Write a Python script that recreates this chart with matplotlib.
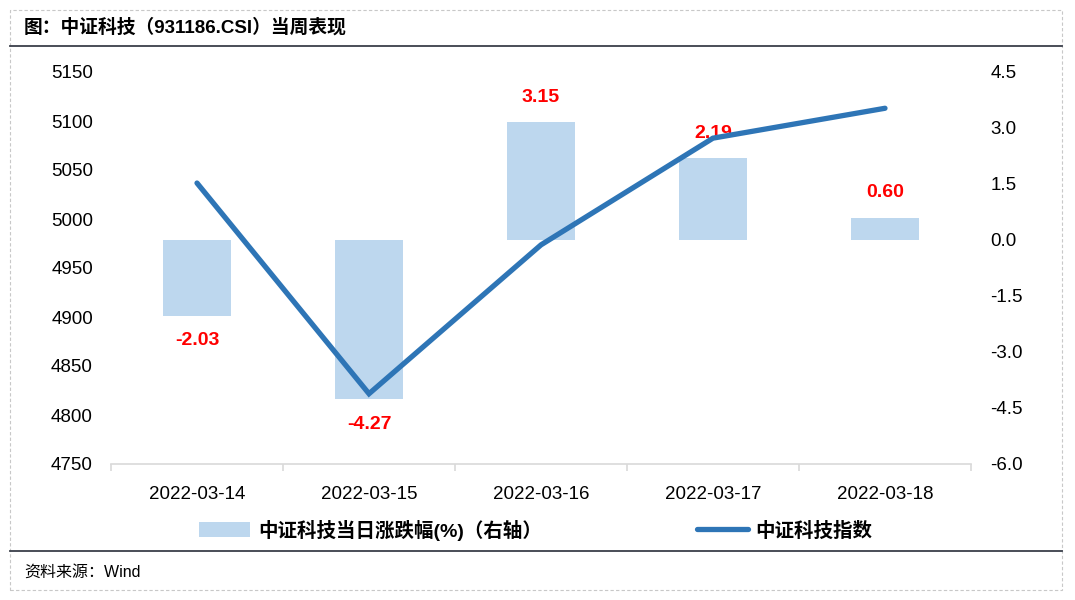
import matplotlib
matplotlib.use('Agg')
import matplotlib.pyplot as plt
from matplotlib.patches import Rectangle, Patch
from matplotlib.lines import Line2D

plt.rcParams['font.family'] = ['Liberation Sans', 'Noto Sans CJK SC', 'DejaVu Sans']

dates = ['2022-03-14', '2022-03-15', '2022-03-16', '2022-03-17', '2022-03-18']
pct_change = [-2.03, -4.27, 3.15, 2.19, 0.60]
index_close = [5036.7, 4821.7, 4973.6, 5082.5, 5113.0]

bar_color = '#bdd7ee'
line_color = '#2e75b6'

fig = plt.figure(figsize=(10.75, 6), dpi=100)
W, H = 1075, 600

# outer frame and separators
fig.add_artist(Rectangle((10 / W, 1 - 590 / H), 1052 / W, 580 / H, transform=fig.transFigure,
                         fill=False, ec='#c8c8c8', lw=0.8, ls=(0, (3, 2))))
fig.add_artist(Line2D([10 / W, 1062 / W], [1 - 46 / H] * 2, transform=fig.transFigure,
                      color='#3a3f4a', lw=1.3))
fig.add_artist(Line2D([10 / W, 1062 / W], [1 - 551 / H] * 2, transform=fig.transFigure,
                      color='#3a3f4a', lw=1.3))
fig.text(24 / W, 1 - 27 / H, '图：中证科技（931186.CSI）当周表现', fontsize=13.5,
         fontweight='bold', va='center', ha='left')
fig.text(24 / W, 1 - 572 / H, '资料来源：Wind', fontsize=11.5, va='center', ha='left')

ax = fig.add_axes([111 / W, 1 - 464 / H, 860 / W, 392 / H])
ax2 = ax.twinx()

x = list(range(len(dates)))
ax2.bar(x, pct_change, width=0.4, color=bar_color, zorder=1)
for xi, v in zip(x, pct_change):
    off = 18 if v >= 0 else -18
    ax2.annotate(f'{v:.2f}', (xi, v), xytext=(0, off), textcoords='offset points',
                 ha='center', va='center', color='#ff0000', fontsize=14, fontweight='bold')

ax.plot(x, index_close, color=line_color, lw=3.8, solid_capstyle='round',
        solid_joinstyle='miter', zorder=3)
ax.set_zorder(ax2.get_zorder() + 1)
ax.patch.set_visible(False)

ax.set_xlim(-0.5, 4.5)
ax.set_ylim(4750, 5150)
ax.set_yticks(range(4750, 5151, 50))
ax2.set_ylim(-6.0, 4.5)
ax2.set_yticks([-6.0, -4.5, -3.0, -1.5, 0.0, 1.5, 3.0, 4.5])
ax2.set_yticklabels([f'{t:.1f}' for t in ax2.get_yticks()])

ax.set_xticks(x)
ax.set_xticklabels(dates)
ax.set_xticks([i - 0.5 for i in range(len(dates) + 1)], minor=True)
ax.tick_params(axis='x', which='major', length=0, pad=16, labelsize=13.5)
ax.tick_params(axis='x', which='minor', length=5, color='#d9d9d9', width=1.2)
ax.tick_params(axis='y', length=0, pad=13, labelsize=13.5)
ax2.tick_params(axis='y', length=0, pad=14, labelsize=13.5)

for a in (ax, ax2):
    for s in a.spines.values():
        s.set_visible(False)
ax.spines['bottom'].set_visible(True)
ax.spines['bottom'].set_color('#d9d9d9')
ax.spines['bottom'].set_linewidth(1.2)

handles = [Patch(facecolor=bar_color, edgecolor='none'),
           Line2D([0], [0], color=line_color, lw=3.8, solid_capstyle='round')]
labels = ['中证科技当日涨跌幅(%)（右轴）', '中证科技指数']
fig.legend(handles, labels, loc='center', bbox_to_anchor=(536 / W, 1 - 530 / H), ncol=2,
           frameon=False, handlelength=2.6, handleheight=0.8, handletextpad=0.4,
           columnspacing=8.0, prop={'size': 14, 'weight': 'bold'})

fig.savefig('out.png', dpi=100)
